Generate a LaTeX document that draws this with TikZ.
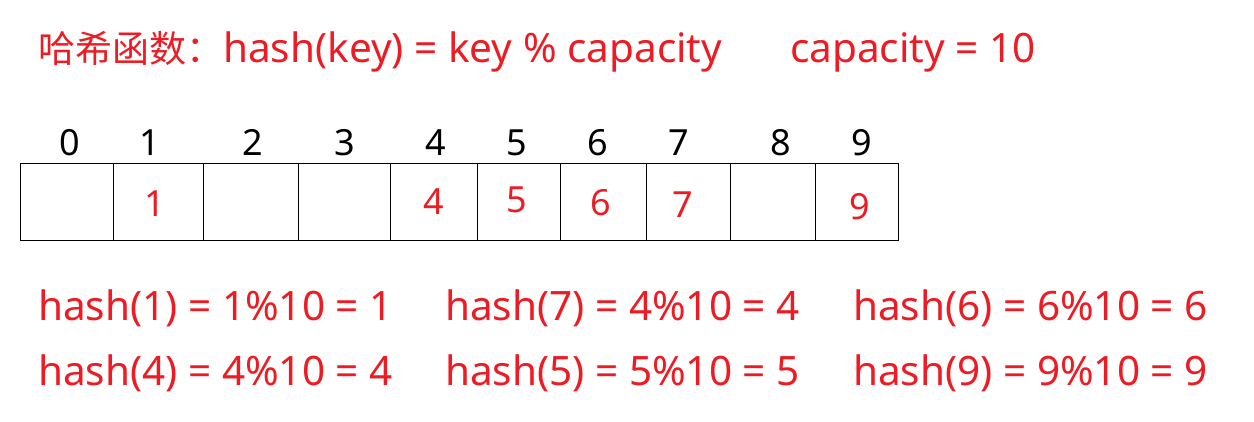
\documentclass[tikz,border=0pt]{standalone}
\usepackage{fontspec}
\setmainfont{Noto Sans}
\newfontfamily\cjk{Noto Sans CJK SC}
\usetikzlibrary{positioning}
\definecolor{hashred}{RGB}{237, 28, 36}
\tikzset{
  cellbox/.style={rectangle, draw=black, line width=1pt, inner sep=0pt, minimum height=77pt},
  idxlabel/.style={font=\fontsize{36}{38}\selectfont, text=black, inner sep=0pt, anchor=base},
  vallabel/.style={font=\fontsize{36}{38}\selectfont, text=hashred, inner sep=0pt, anchor=base},
  hashtext/.style={font=\fontsize{40.5}{44}\selectfont, text=hashred, inner sep=0pt, anchor=base west},
}

\begin{document}
\begin{tikzpicture}[x=1pt, y=-1pt]
        \useasboundingbox (0, 0) rectangle (1254, 421);
        % title
        \node[hashtext] (title) at (38, 62) {{\cjk\fontsize{37}{40}\selectfont 哈希函数：}hash(key) = key \% capacity};
        \node[hashtext] (cap) at (790, 62) {capacity = 10};

        % table
        \foreach \i/\xa/\xb in {0/20/113, 1/113/203, 2/203/298, 3/298/390, 4/390/477,
                                5/477/560, 6/560/646, 7/646/730, 8/730/815, 9/815/898}
          \node[cellbox, minimum width={(\xb-\xa)*1pt}] (cell\i) at ({(\xa+\xb)/2}, 201.5) {};

        % indices
        \foreach \i/\x in {0/70, 1/150, 2/253, 3/345, 4/436, 5/517, 6/598, 7/679, 8/781, 9/862}
          \node[idxlabel] (idx\i) at (\x, 155) {\i};

        % stored keys
        \node[vallabel] (val1) at (155, 216) {1};
        \node[vallabel] (val4) at (434, 214) {4};
        \node[vallabel] (val5) at (517, 212) {5};
        \node[vallabel] (val6) at (601, 215) {6};
        \node[vallabel] (val7) at (683, 217) {7};
        \node[vallabel] (val9) at (860, 219) {9};

        % hash results
        \node[hashtext] (h1) at (38, 320) {hash(1) = 1\%10 = 1};
        \node[hashtext] (h7) at (445, 320) {hash(7) = 4\%10 = 4};
        \node[hashtext] (h6) at (853, 320) {hash(6) = 6\%10 = 6};
        \node[hashtext] (h4) at (38, 385) {hash(4) = 4\%10 = 4};
        \node[hashtext] (h5) at (445, 385) {hash(5) = 5\%10 = 5};
        \node[hashtext] (h9) at (853, 385) {hash(9) = 9\%10 = 9};
      \end{tikzpicture}
\end{document}
